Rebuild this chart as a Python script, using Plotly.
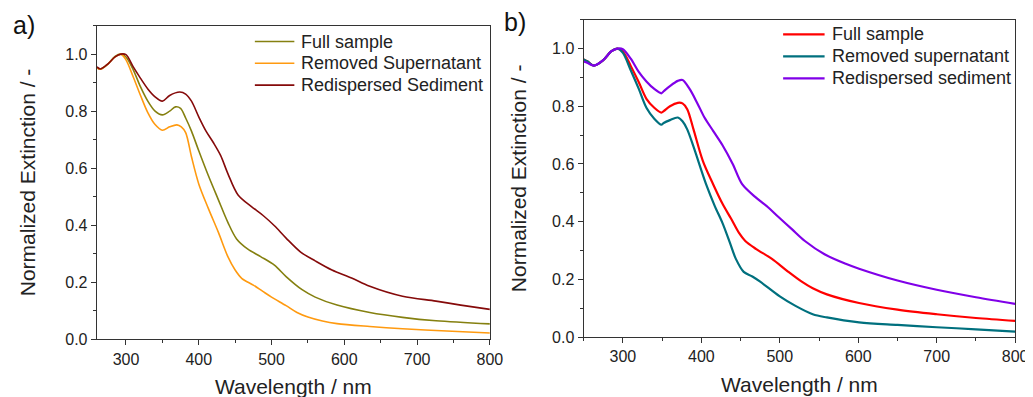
import plotly.graph_objects as go

# ---- Panel a) data (wavelength nm, normalized extinction) ----
wl_a_full = [260, 265, 275, 285, 293, 300, 310, 320, 330, 340, 350, 360, 368, 375, 382, 390,
             400, 413, 427, 440, 452, 467, 485, 504, 520, 542, 560, 590, 635, 680, 726, 800]
full_a = [0.953, 0.947, 0.965, 0.992, 1.0, 0.99, 0.945, 0.885, 0.835, 0.80, 0.787, 0.80, 0.815,
          0.81, 0.776, 0.73, 0.661, 0.575, 0.489, 0.41, 0.352, 0.317, 0.29, 0.26, 0.22, 0.174,
          0.148, 0.12, 0.094, 0.077, 0.065, 0.054]
wl_a_removed = [260, 265, 275, 285, 293, 300, 310, 320, 330, 340, 350, 360, 370, 376, 382, 390,
                400, 413, 427, 440, 450, 459, 475, 488, 500, 520, 535, 550, 570, 590, 635, 680,
                726, 800]
removed_a = [0.953, 0.947, 0.965, 0.99, 1.0, 0.98, 0.92, 0.855, 0.795, 0.753, 0.733, 0.745,
             0.752, 0.745, 0.725, 0.64, 0.545, 0.46, 0.375, 0.29, 0.243, 0.214, 0.19, 0.168,
             0.148, 0.118, 0.094, 0.078, 0.064, 0.055, 0.045, 0.037, 0.031, 0.022]
wl_a_sediment = [260, 265, 275, 285, 293, 300, 310, 320, 330, 340, 350, 360, 374, 382, 390, 400,
                 410, 420, 430, 440, 454, 472, 488, 504, 520, 540, 560, 583, 610, 635, 680, 726,
                 760, 800]
sediment_a = [0.955, 0.948, 0.965, 0.99, 1.0, 0.998, 0.955, 0.915, 0.878, 0.85, 0.835, 0.855,
              0.867, 0.86, 0.835, 0.78, 0.73, 0.69, 0.645, 0.581, 0.506, 0.466, 0.435, 0.398,
              0.355, 0.306, 0.275, 0.243, 0.215, 0.186, 0.151, 0.134, 0.12, 0.105]

# ---- Panel b) data ----
wl_b_full = [250, 255, 263, 275, 285, 293, 300, 310, 320, 330, 340, 349, 352, 360, 370, 376,
             382, 390, 402, 415, 427, 438, 448, 456, 470, 490, 510, 528, 542, 560, 601, 650,
             700, 750, 800]
full_b = [0.962, 0.955, 0.941, 0.96, 0.99, 1.0, 0.99, 0.94, 0.885, 0.826, 0.795, 0.778, 0.783,
          0.80, 0.812, 0.81, 0.79, 0.72, 0.61, 0.53, 0.462, 0.41, 0.361, 0.333, 0.305, 0.271,
          0.228, 0.192, 0.169, 0.148, 0.118, 0.095, 0.079, 0.066, 0.056]
wl_b_removed = [250, 255, 263, 275, 285, 293, 300, 310, 320, 330, 340, 349, 352, 360, 370, 376,
                382, 390, 406, 417, 427, 436, 444, 454, 465, 475, 500, 520, 542, 560, 601, 650,
                700, 750, 800]
removed_b = [0.962, 0.955, 0.941, 0.96, 0.99, 1.0, 0.985, 0.925, 0.862, 0.795, 0.757, 0.736,
             0.742, 0.752, 0.761, 0.748, 0.72, 0.66, 0.53, 0.455, 0.395, 0.33, 0.271, 0.226,
             0.21, 0.192, 0.141, 0.108, 0.079, 0.068, 0.051, 0.042, 0.034, 0.027, 0.019]
wl_b_sediment = [250, 255, 263, 275, 285, 293, 300, 310, 320, 330, 340, 349, 352, 360, 370, 376,
                 385, 395, 404, 415, 427, 440, 452, 469, 485, 498, 515, 532, 557, 584, 601, 650,
                 700, 750, 800]
sediment_b = [0.955, 0.95, 0.941, 0.96, 0.99, 1.0, 0.998, 0.965, 0.920, 0.886, 0.86, 0.845,
              0.852, 0.87, 0.888, 0.891, 0.86, 0.81, 0.761, 0.715, 0.665, 0.60, 0.53, 0.485,
              0.45, 0.417, 0.375, 0.333, 0.287, 0.254, 0.237, 0.196, 0.164, 0.138, 0.115]

names_a = ["Full sample", "Removed Supernatant", "Redispersed Sediment"]
names_b = ["Full sample", "Removed supernatant", "Redispersed sediment"]
colors_a = ["#858010", "#FF9A10", "#850A0A"]
colors_b = ["#FF0000", "#00707E", "#8000E8"]

FONT = "Liberation Sans, Arial, sans-serif"
W, H = 1033, 397
fig = go.Figure()

series_a = [(wl_a_full, full_a), (wl_a_removed, removed_a), (wl_a_sediment, sediment_a)]
series_b = [(wl_b_full, full_b), (wl_b_removed, removed_b), (wl_b_sediment, sediment_b)]

for name, (xs, ys), col in zip(names_a, series_a, colors_a):
    fig.add_trace(go.Scatter(x=xs, y=ys, mode="lines", name=name, showlegend=False,
                             line=dict(color=col, width=1.6, shape="spline", smoothing=0.9),
                             xaxis="x", yaxis="y"))
for name, (xs, ys), col in zip(names_b, series_b, colors_b):
    fig.add_trace(go.Scatter(x=xs, y=ys, mode="lines", name=name, showlegend=False,
                             line=dict(color=col, width=2.2, shape="spline", smoothing=0.9),
                             xaxis="x2", yaxis="y2"))


def xax(domain, rng, anchor):
    return dict(domain=domain, range=rng, anchor=anchor, showline=True, linecolor="#333",
                linewidth=1.3, mirror=True, ticks="outside", ticklen=5, tickwidth=1.3,
                tickcolor="#333", dtick=100, tick0=0, showgrid=False, zeroline=False,
                minor=dict(ticks="outside", ticklen=3, dtick=50, tickcolor="#333", tickwidth=1.3),
                tickfont=dict(size=16, color="#222", family=FONT),
                title=dict(text="Wavelength / nm", font=dict(size=21, color="#222", family=FONT),
                           standoff=12))


def yax(domain, anchor, standoff):
    return dict(domain=domain, range=[0, 1.1], anchor=anchor, showline=True, linecolor="#333",
                linewidth=1.3, mirror=True, ticks="outside", ticklen=5, tickwidth=1.3,
                tickcolor="#333", dtick=0.2, tick0=0, tickformat=".1f", showgrid=False,
                zeroline=False,
                minor=dict(ticks="outside", ticklen=3, dtick=0.1, tickcolor="#333", tickwidth=1.3),
                tickfont=dict(size=16, color="#222", family=FONT),
                title=dict(text="Normalized Extinction / -",
                           font=dict(size=21, color="#222", family=FONT), standoff=standoff))


# manual legends (line sample + label) in paper coordinates
shapes, annotations = [], []
legend_specs = [
    (names_a, colors_a, 250, 290, 295, 34.3, 22.3, 1.6),
    (names_b, colors_b, 785, 827, 832, 27.0, 22.5, 2.2),
]
for names, colors, x0, x1, xt, y0, dy, lw in legend_specs:
    for i, (nm, col) in enumerate(zip(names, colors)):
        yy = 1 - (y0 + i * dy) / H
        shapes.append(dict(type="line", xref="paper", yref="paper", x0=x0 / W, x1=x1 / W,
                           y0=yy, y1=yy, line=dict(color=col, width=lw)))
        annotations.append(dict(text=nm, x=xt / W, y=yy, xref="paper", yref="paper",
                                xanchor="left", yanchor="middle", showarrow=False,
                                font=dict(size=18, color="#222", family=FONT)))

annotations += [
    dict(text="a)", x=16 / W, y=1 - 17 / H, xref="paper", yref="paper", showarrow=False,
         xanchor="center", yanchor="middle", font=dict(size=25, color="#111", family=FONT)),
    dict(text="b)", x=513 / W, y=1 - 14 / H, xref="paper", yref="paper", showarrow=False,
         xanchor="center", yanchor="middle", font=dict(size=25, color="#111", family=FONT)),
]

fig.update_layout(
    width=W, height=H,
    margin=dict(l=0, r=0, t=0, b=0),
    paper_bgcolor="white", plot_bgcolor="white",
    font=dict(family=FONT, color="#222"),
    showlegend=False,
    xaxis=xax([90 / W, 488 / W], [260, 800], "y"),
    yaxis=yax([1 - 339 / H, 1 - 18 / H], "x", 23),
    xaxis2=xax([583 / W, 1020 / W], [250, 800], "y2"),
    yaxis2=yax([1 - 336.7 / H, 1 - 12 / H], "x2", 19),
    shapes=shapes,
    annotations=annotations,
)

fig.write_html("out.html")
